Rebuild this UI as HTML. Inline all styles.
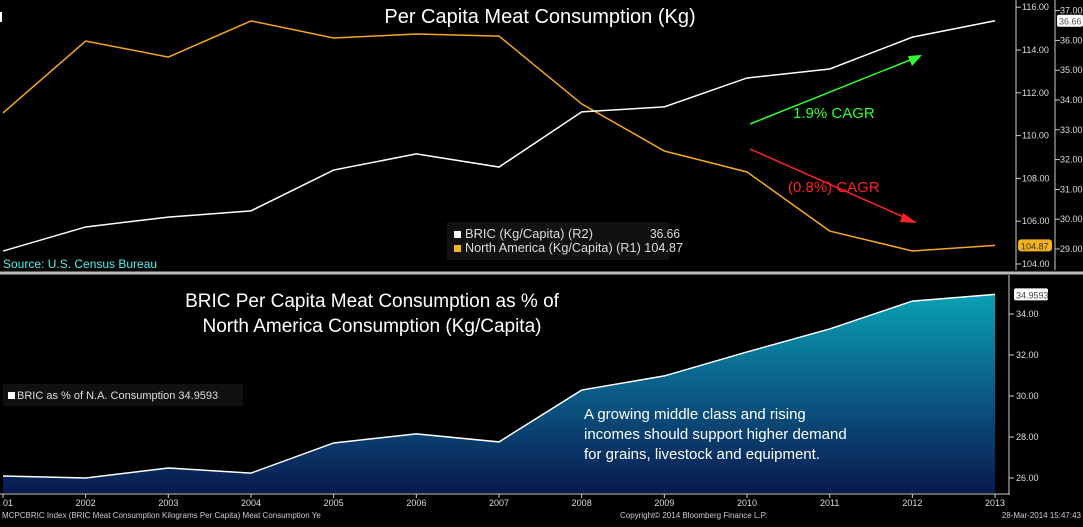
<!DOCTYPE html>
<html><head><meta charset="utf-8"><style>
body{margin:0;background:#000;width:1083px;height:522px;overflow:hidden;font-family:"Liberation Sans",sans-serif}
svg text{font-family:"Liberation Sans",sans-serif}
</style></head><body>
<svg id="c" width="1083" height="522">
<defs><linearGradient id="g" x1="0" y1="0" x2="0" y2="1"><stop offset="0" stop-color="#0aa0b4"/><stop offset="0.5" stop-color="#0a5a86"/><stop offset="1" stop-color="#081a4e"/></linearGradient></defs>
<g id="topPanel"></g><g id="botPanel"></g>
</svg>
<script>
const years=[2001,2002,2003,2004,2005,2006,2007,2008,2009,2010,2011,2012,2013];
const yearLabels=["01","2002","2003","2004","2005","2006","2007","2008","2009","2010","2011","2012","2013"];
const bric=[28.93,29.74,30.07,30.28,31.65,32.19,31.75,33.6,33.77,34.74,35.04,36.11,36.66];
const northAmerica=[111.06,114.42,113.67,115.36,114.56,114.75,114.65,111.48,109.28,108.3,105.54,104.61,104.87];
const bricPct=[26.1,26.0,26.49,26.24,27.71,28.15,27.76,30.29,30.98,32.15,33.27,34.63,34.96];
const r1Ticks=[104,106,108,110,112,114,116];
const r2Ticks=[29,30,31,32,33,34,35,36,37];
const bTicks=[26,28,30,32,34];
const NS="http://www.w3.org/2000/svg";
function mk(p,t,a,txt){const e=document.createElementNS(NS,t);for(const k in a)e.setAttribute(k,a[k]);if(txt!=null)e.textContent=txt;p.appendChild(e);return e;}
const xS=y=>3+(y-2001)*82.67;
const y1S=v=>264-(v-104)*21.4;
const y2S=v=>249-(v-29)*29.8;
const yBS=v=>478-(v-26)*20.5;
const tp=document.getElementById('topPanel'),bp=document.getElementById('botPanel');
mk(tp,'line',{x1:1016,y1:0,x2:1016,y2:270,stroke:'#ccc'});
mk(tp,'line',{x1:1055,y1:0,x2:1055,y2:270,stroke:'#ccc'});
mk(tp,'line',{x1:0,y1:273,x2:1083,y2:273,stroke:'#bbb','stroke-width':3});
r1Ticks.forEach(v=>{mk(tp,'line',{x1:1016,y1:y1S(v),x2:1021,y2:y1S(v),stroke:'#ccc'});const t=mk(tp,'text',{x:1022,y:y1S(v)+3,fill:'#ddd','font-size':9},v.toFixed(2));

});
r2Ticks.forEach(v=>{mk(tp,'line',{x1:1055,y1:y2S(v),x2:1060,y2:y2S(v),stroke:'#ccc'});const t=mk(tp,'text',{x:1060,y:y2S(v)+3,fill:'#ddd','font-size':9},v.toFixed(2));

});
mk(tp,'text',{x:540,y:23,fill:'#fff','font-size':20,'text-anchor':'middle',},'Per Capita Meat Consumption (Kg)');
const naL=mk(tp,'polyline',{points:years.map((y,i)=>xS(y)+','+y1S(northAmerica[i])).join(' '),fill:'none',stroke:'#f5a623','stroke-width':1.5});


const bL=mk(tp,'polyline',{points:years.map((y,i)=>xS(y)+','+y2S(bric[i])).join(' '),fill:'none',stroke:'#fff','stroke-width':1.5});


mk(tp,'rect',{x:1057,y:y2S(36.66)-6,width:26,height:12,fill:'#fff',rx:2});
mk(tp,'text',{x:1059,y:y2S(36.66)+4,fill:'#555','font-size':9,},'36.66');
mk(tp,'rect',{x:1018,y:y1S(104.87)-6,width:34,height:12,fill:'#f5b21f',rx:3});
mk(tp,'text',{x:1021,y:y1S(104.87)+4,fill:'#333','font-size':9,},'104.87');
mk(tp,'line',{x1:750,y1:124,x2:920,y2:56,stroke:'#3f3','stroke-width':1.5});
mk(tp,'polygon',{points:'922,55 908,56 912,66',fill:'#3f3'});
mk(tp,'text',{x:793,y:118,fill:'#3f3','font-size':15,},'1.9% CAGR');
mk(tp,'line',{x1:750,y1:149,x2:915,y2:222,stroke:'#f22','stroke-width':1.5});
mk(tp,'polygon',{points:'917,223 903,213 900,222',fill:'#f22'});
mk(tp,'text',{x:788,y:192,fill:'#f22','font-size':15,},'(0.8%) CAGR');
const lg=mk(tp,'g',{});
mk(lg,'rect',{x:447,y:222,width:222,height:38,fill:'#111'});
mk(lg,'rect',{x:454,y:231,width:7,height:7,fill:'#fff'});
mk(lg,'text',{x:465,y:238,fill:'#ddd','font-size':13,textLength:128,lengthAdjust:'spacingAndGlyphs'},'BRIC (Kg/Capita) (R2)');
mk(lg,'text',{x:650,y:238,fill:'#ddd','font-size':13,textLength:30,lengthAdjust:'spacingAndGlyphs'},'36.66');
mk(lg,'rect',{x:454,y:245,width:7,height:7,fill:'#f5b21f'});
mk(lg,'text',{x:465,y:252,fill:'#ddd','font-size':13,textLength:218,lengthAdjust:'spacingAndGlyphs'},'North America (Kg/Capita) (R1) 104.87');
mk(tp,'text',{x:3,y:268,fill:'#5ee','font-size':12,},'Source: U.S. Census Bureau');
mk(tp,'rect',{x:0,y:12,width:2,height:10,fill:'#fff'});
const ar=mk(bp,'polygon',{points:xS(2001)+',493 '+years.map((y,i)=>xS(y)+','+yBS(bricPct[i])).join(' ')+' '+xS(2013)+',493',fill:'url(#g)'});


const al=mk(bp,'polyline',{points:years.map((y,i)=>xS(y)+','+yBS(bricPct[i])).join(' '),fill:'none',stroke:'#fff','stroke-width':1.5});


mk(bp,'line',{x1:1009,y1:275,x2:1009,y2:495,stroke:'#ccc'});
mk(bp,'line',{x1:0,y1:494,x2:1009,y2:494,stroke:'#ccc'});
bTicks.forEach(v=>{mk(bp,'line',{x1:1009,y1:yBS(v),x2:1014,y2:yBS(v),stroke:'#ccc'});const t=mk(bp,'text',{x:1016,y:yBS(v)+3,fill:'#ddd','font-size':9},v.toFixed(2));

});
mk(bp,'rect',{x:1014,y:yBS(34.96)-6,width:34,height:12,fill:'#fff',rx:2});
mk(bp,'text',{x:1016,y:yBS(34.96)+4,fill:'#444','font-size':9,},'34.9593');
years.forEach((y,i)=>{mk(bp,'line',{x1:xS(y),y1:494,x2:xS(y),y2:498,stroke:'#ccc'});const t=mk(bp,'text',{x:xS(y),y:506,fill:'#ddd','font-size':9,'text-anchor':i==0?'start':'middle'},yearLabels[i]);

});
mk(bp,'text',{x:372,y:307,fill:'#fff','font-size':19,'text-anchor':'middle',},'BRIC Per Capita Meat Consumption as % of');
mk(bp,'text',{x:372,y:332,fill:'#fff','font-size':19,'text-anchor':'middle',},'North America Consumption (Kg/Capita)');
const bl=mk(bp,'g',{});
mk(bl,'rect',{x:3,y:384,width:240,height:22,fill:'#111'});
mk(bl,'rect',{x:8,y:392,width:7,height:7,fill:'#fff'});
mk(bl,'text',{x:17,y:399,fill:'#ddd','font-size':11},'BRIC as % of N.A. Consumption 34.9593');
['A growing middle class and rising','incomes should support higher demand','for grains, livestock and equipment.'].forEach((s,i)=>{const t=mk(bp,'text',{x:584,y:419+i*20,fill:'#fff','font-size':15},s);

});
mk(bp,'text',{x:2,y:518,fill:'#ccc','font-size':8},'MCPCBRIC Index (BRIC Meat Consumption Kilograms Per Capita) Meat Consumption  Ye');
mk(bp,'text',{x:620,y:518,fill:'#ccc','font-size':8},'Copyright© 2014 Bloomberg Finance L.P.');
mk(bp,'text',{x:1081,y:518,fill:'#ccc','font-size':8,'text-anchor':'end'},'28-Mar-2014 15:47:43');
</script>
</body></html>
